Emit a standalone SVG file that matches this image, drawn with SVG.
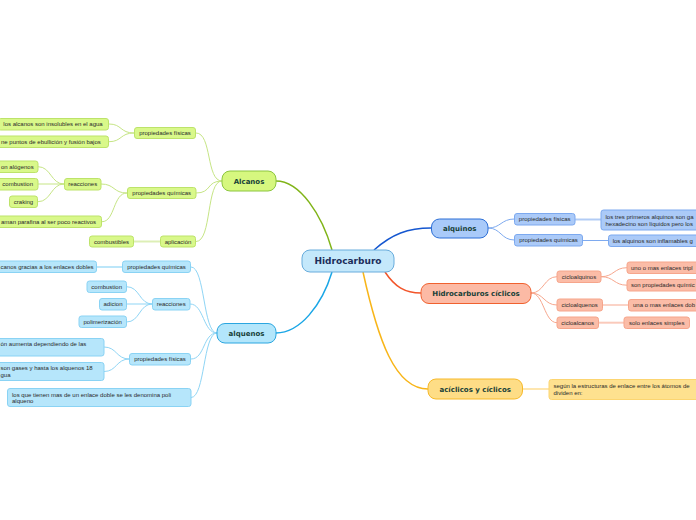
<svg xmlns="http://www.w3.org/2000/svg" width="696" height="520" viewBox="0 0 696 520">
<style>
.bg{fill:#ffffff}
.c{font-family:"Liberation Sans",Arial,sans-serif;font-size:6px;fill:#2a2a2a}
.m{font-family:"DejaVu Sans",Verdana,sans-serif;font-weight:bold;font-size:7px;fill:#173f38}
.r{font-family:"DejaVu Sans",Verdana,sans-serif;font-weight:bold;font-size:9px;fill:#1c2d5a}
.mid{text-anchor:middle}
.end{text-anchor:end}
.g1{fill:#d9f88a;stroke:#bde36a;stroke-width:1}
.b1{fill:#b6e6fb;stroke:#8ad3f4;stroke-width:1}
.d1{fill:#abcaf8;stroke:#7ca9ef;stroke-width:1}
.o1{fill:#fbbca7;stroke:#f6a58b;stroke-width:1}
.y1{fill:#fee18f;stroke:#fcd571;stroke-width:1}
.lg{fill:none;stroke:#c6e585;stroke-width:1}
.lb{fill:none;stroke:#8fd5f5;stroke-width:1}
.ld{fill:none;stroke:#7eaaef;stroke-width:1}
.lo{fill:none;stroke:#f7a78e;stroke-width:1}
.ly{fill:none;stroke:#fdd67a;stroke-width:1}
.pale{stroke-width:2;opacity:0.6}
</style>
<rect class="bg" x="0" y="0" width="696" height="520"/>
<g id="connectors">
  <path d="M332,250 C322,215 300,181 276,181" fill="none" stroke="#80b418" stroke-width="1.5"/>
  <path d="M332,272 C322,305 300,333 276,333" fill="none" stroke="#1aa6e6" stroke-width="1.5"/>
  <path d="M374,250 C392,234 408,228 431,228" fill="none" stroke="#1557d0" stroke-width="1.5"/>
  <path d="M385,272 C395,287 405,293 421,293" fill="none" stroke="#f2552a" stroke-width="1.5"/>
  <path d="M363,272 C378,340 395,389 428,389" fill="none" stroke="#f8b518" stroke-width="1.5"/>
  <path class="lg" d="M222,181 C206,181 212,133 196,133"/>
  <path class="lg" d="M222,181 C206,181 212,193 196,193"/>
  <path class="lg" d="M222,181 C206,181 212,241.5 196,241.5"/>
  <path class="lg" d="M134,133 C120,133 122,124 109,124"/>
  <path class="lg" d="M134,133 C120,133 122,141.7 109,141.7"/>
  <path class="lg" d="M127,193 C113,193 115,184 101,184"/>
  <path class="lg" d="M127,193 C113,193 115,221.7 102,221.7"/>
  <path class="lg" d="M64,184 C51,184 51,166.7 38,166.7"/>
  <path class="lg" d="M64,184 L38,184"/>
  <path class="lg" d="M64,184 C51,184 51,201.7 38,201.7"/>
  <path class="lg pale" d="M160,241.5 L133.5,241.5"/>
  <path class="lb" d="M217,333 C203,333 205,267 191,267"/>
  <path class="lb" d="M217,333 C203,333 204,304 190,304"/>
  <path class="lb" d="M217,333 C203,333 205,359 191,359"/>
  <path class="lb" d="M217,333 C203,333 205,397.5 191,397.5"/>
  <path class="lb pale" d="M122.5,267 L96.5,267"/>
  <path class="lb" d="M152.5,304 C139,304 140,286.7 126.5,286.7"/>
  <path class="lb" d="M152.5,304 L126.5,304"/>
  <path class="lb" d="M152.5,304 C139,304 140,322 126.5,322"/>
  <path class="lb" d="M129.5,359 C116,359 117,347 104,347"/>
  <path class="lb" d="M129.5,359 C116,359 117,371.5 104,371.5"/>
  <path class="ld" d="M488,228 C501,228 501,219 514.5,219"/>
  <path class="ld" d="M488,228 C501,228 501,240 514.5,240"/>
  <path class="ld pale" d="M575,219.5 L601,219.5"/>
  <path class="ld" d="M582.5,240.5 L608.5,240.5"/>
  <path class="lo" d="M531,293 C544,293 544,276.7 557,276.7"/>
  <path class="lo" d="M531,293 C544,293 544,305 557,305"/>
  <path class="lo" d="M531,293 C544,293 544,322.7 557,322.7"/>
  <path class="lo" d="M601,276.7 C614,276.7 614,267.7 627,267.7"/>
  <path class="lo" d="M601,276.7 C614,276.7 614,285.2 627,285.2"/>
  <path class="lo" d="M602.5,305 L628.5,305"/>
  <path class="lo pale" d="M598.5,322.7 L624,322.7"/>
  <path class="ly pale" d="M522.5,389 L549,389"/>
</g>
<g id="root">
  <rect x="302" y="250" width="92" height="22" rx="8" fill="#c4e8fb" stroke="#68acdc" stroke-width="1"/>
  <text class="r mid" x="348" y="264.3">Hidrocarburo</text>
</g>
<g id="alcanos">
  <rect x="222" y="171" width="54" height="20" rx="8" fill="#d6f77f" stroke="#8cc63f" stroke-width="1"/>
  <text class="m mid" x="249" y="183.6">Alcanos</text>
</g>
<g id="alquenos">
  <rect x="217" y="323.5" width="59" height="19.5" rx="8" fill="#b3e6fb" stroke="#2aa6e0" stroke-width="1"/>
  <text class="m mid" x="246.5" y="335.8">alquenos</text>
</g>
<g id="alquinos">
  <rect x="431.5" y="219" width="56.5" height="19" rx="8" fill="#a9caf9" stroke="#2d6fd6" stroke-width="1"/>
  <text class="m mid" x="459.7" y="231">alquinos</text>
</g>
<g id="ciclicos">
  <rect x="421" y="283.5" width="110" height="20" rx="8" fill="#fcbaa5" stroke="#f0612f" stroke-width="1"/>
  <text class="m mid" x="476" y="296">Hidrocarburos cíclicos</text>
</g>
<g id="aciclicos">
  <rect x="428" y="379" width="94.5" height="20" rx="8" fill="#fedd86" stroke="#f7b928" stroke-width="1"/>
  <text class="m mid" x="475.2" y="391.5">acíclicos y cíclicos</text>
</g>
<g id="alc-pf"><rect class="g1" x="134.5" y="127.5" width="61" height="11" rx="2.5"/><text class="c mid" x="165" y="135.1">propiedades físicas</text></g>
<g id="alc-pq"><rect class="g1" x="127.5" y="187.5" width="68.5" height="11" rx="2.5"/><text class="c mid" x="161.7" y="195.1">propiedades químicas</text></g>
<g id="alc-apl"><rect class="g1" x="160.5" y="236" width="35" height="11" rx="2.5"/><text class="c mid" x="178" y="243.6">aplicación</text></g>
<g id="alc-comb"><rect class="g1" x="89.5" y="236" width="44" height="11" rx="2.5"/><text class="c mid" x="111.5" y="243.6">combustibles</text></g>
<g id="alc-reac"><rect class="g1" x="64.5" y="178.5" width="36.5" height="11.5" rx="2.5"/><text class="c mid" x="82.7" y="186.4">reacciones</text></g>
<g id="alc-halog"><rect class="g1" x="-20" y="161" width="58" height="11.5" rx="2.5"/><text class="c" x="1" y="168.9">on alógenos</text></g>
<g id="alc-combust"><rect class="g1" x="-5" y="178.5" width="43" height="11.5" rx="2.5"/><text class="c" x="2.3" y="186.4">combustion</text></g>
<g id="alc-craking"><rect class="g1" x="9.5" y="196" width="28" height="11.5" rx="2.5"/><text class="c mid" x="23.5" y="203.9">craking</text></g>
<g id="alc-parafina"><rect class="g1" x="-10" y="216" width="111.5" height="11.5" rx="2.5"/><text class="c" x="1" y="223.9">aman parafina al ser poco reactivos</text></g>
<g id="alc-insol"><rect class="g1" x="-2" y="118.5" width="110.5" height="11.5" rx="2.5"/><text class="c" x="3.3" y="126.4">los alcanos son insolubles en el agua</text></g>
<g id="alc-ebull"><rect class="g1" x="-5" y="136" width="113.5" height="11.5" rx="2.5"/><text class="c" x="1" y="143.9">ne puntos de ebullición y fusión bajos</text></g>
<g id="alq-pq"><rect class="b1" x="122.5" y="261" width="68" height="11.5" rx="2.5"/><text class="c mid" x="156.5" y="268.9">propiedades químicas</text></g>
<g id="alq-gracias"><rect class="b1" x="-5" y="261" width="101.5" height="11.5" rx="2.5"/><text class="c" x="0.5" y="268.9">canos gracias a los enlaces dobles</text></g>
<g id="alq-reac"><rect class="b1" x="152.5" y="298.5" width="37.5" height="11.5" rx="2.5"/><text class="c mid" x="171.2" y="306.4">reacciones</text></g>
<g id="alq-comb"><rect class="b1" x="87" y="281" width="39.5" height="11.5" rx="2.5"/><text class="c mid" x="106.7" y="288.9">combustion</text></g>
<g id="alq-adicion"><rect class="b1" x="99.5" y="298.5" width="27" height="11.5" rx="2.5"/><text class="c mid" x="113" y="306.4">adicion</text></g>
<g id="alq-polim"><rect class="b1" x="79" y="316" width="47.5" height="11.5" rx="2.5"/><text class="c mid" x="102.7" y="323.9">polimerización</text></g>
<g id="alq-pf"><rect class="b1" x="129.5" y="353.5" width="61" height="11.5" rx="2.5"/><text class="c mid" x="160" y="361.4">propiedades físicas</text></g>
<g id="alq-aumenta"><rect class="b1" x="-5" y="338.5" width="109" height="17.5" rx="2.5"/><text class="c" x="0.5" y="346.2">ón aumenta dependiendo de las</text></g>
<g id="alq-gases"><rect class="b1" x="-5" y="362.5" width="109" height="18" rx="2.5"/><text class="c" x="0.5" y="370.3">son gases y hasta los alquenos 18</text><text class="c" x="0.5" y="377.3">gua</text></g>
<g id="alq-poli"><rect class="b1" x="7.5" y="388.5" width="183.5" height="18" rx="2.5"/><text class="c" x="12" y="397.3">los que tienen mas de un enlace doble se les denomina poli</text><text class="c" x="12" y="403.2">alqueno</text></g>
<g id="aqn-pf"><rect class="d1" x="514.5" y="213.5" width="60.5" height="11.5" rx="2.5"/><text class="c mid" x="544.7" y="221.4">propiedades físicas</text></g>
<g id="aqn-pq"><rect class="d1" x="514.5" y="234.5" width="68" height="11.5" rx="2.5"/><text class="c mid" x="548.5" y="242.4">propiedades químicas</text></g>
<g id="aqn-tres"><rect class="d1" x="601" y="210" width="110" height="20" rx="2.5"/><text class="c" x="605.5" y="219.4">los tres primeros alquinos son ga</text><text class="c" x="605.5" y="226.2">hexadecino son líquidos pero los</text></g>
<g id="aqn-inflam"><rect class="d1" x="608.5" y="235" width="100" height="11.5" rx="2.5"/><text class="c" x="612.7" y="242.9">los alquinos son inflamables g</text></g>
<g id="cic-quinos"><rect class="o1" x="557" y="271" width="44" height="11.5" rx="2.5"/><text class="c mid" x="579" y="278.9">cicloalquinos</text></g>
<g id="cic-quenos"><rect class="o1" x="557" y="299" width="45.5" height="12" rx="2.5"/><text class="c mid" x="579.7" y="307.1">cicloalquenos</text></g>
<g id="cic-canos"><rect class="o1" x="557" y="317" width="41.5" height="11.5" rx="2.5"/><text class="c mid" x="577.7" y="324.9">cicloalcanos</text></g>
<g id="cic-tripl"><rect class="o1" x="627" y="262" width="80" height="11.5" rx="2.5"/><text class="c" x="631" y="269.9">uno o mas enlaces tripl</text></g>
<g id="cic-quimic"><rect class="o1" x="627" y="279.5" width="80" height="11.5" rx="2.5"/><text class="c" x="631" y="287.4">son propiedades químic</text></g>
<g id="cic-dob"><rect class="o1" x="628.5" y="299.5" width="80" height="11.5" rx="2.5"/><text class="c" x="633" y="307.4">una o mas enlaces dob</text></g>
<g id="cic-simples"><rect class="o1" x="624" y="317" width="65.5" height="11.5" rx="2.5"/><text class="c mid" x="656.7" y="324.9">solo enlaces simples</text></g>
<g id="aci-segun"><rect class="y1" x="549" y="379.5" width="160" height="20" rx="2.5"/><text class="c" x="553.5" y="388.2">según la estructuras de enlace entre los átomos de</text><text class="c" x="553.5" y="395.4">dividen en:</text></g>
</svg>
